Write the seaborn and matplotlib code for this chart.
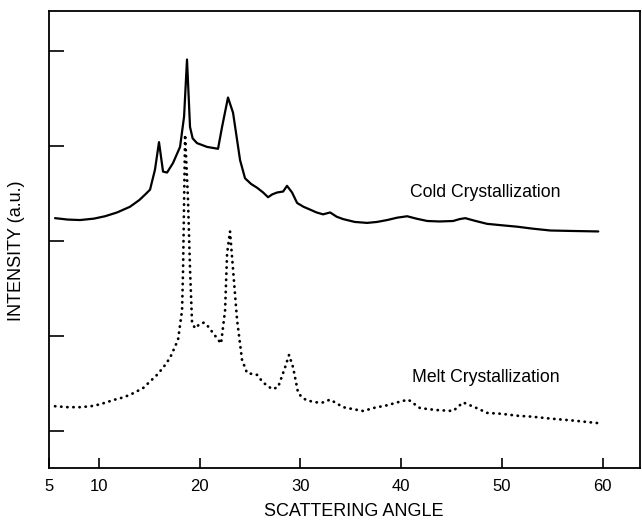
import matplotlib
matplotlib.use("Agg")
import matplotlib.pyplot as plt
import seaborn as sns
import pandas as pd

# Cold crystallization (solid curve)
cold_angle = [5.64, 6.9, 8.12, 9.5, 10.6, 11.8, 13.08, 14.0, 14.6, 15.07,
              15.56, 15.96, 16.36, 16.76, 17.35, 18.05, 18.45, 18.74, 19.04, 19.3,
              19.73, 20.73, 21.82, 22.22, 22.81, 23.31, 24.01, 24.5, 25.1, 25.7,
              26.3, 26.79, 27.2, 27.68, 28.28, 28.67, 29.17, 29.67, 30.3, 30.96,
              31.6, 32.25, 32.95, 33.6, 34.24, 35.4, 36.62, 37.6, 38.61, 39.6,
              40.6, 41.5, 42.59, 43.8, 45.16, 45.8, 46.36, 47.4, 48.54, 50.0,
              51.52, 53.0, 54.8, 57.0, 59.57]
cold_int = [3.24, 3.225, 3.22, 3.235, 3.26, 3.30, 3.36, 3.43, 3.49, 3.54,
            3.75, 4.04, 3.73, 3.72, 3.82, 3.99, 4.31, 4.91, 4.20, 4.08,
            4.03, 3.99, 3.97, 4.20, 4.51, 4.35, 3.85, 3.66, 3.60, 3.56,
            3.51, 3.46, 3.49, 3.51, 3.52, 3.58, 3.51, 3.40, 3.36, 3.33,
            3.30, 3.28, 3.30, 3.255, 3.23, 3.20, 3.19, 3.20, 3.22, 3.245,
            3.26, 3.235, 3.21, 3.205, 3.21, 3.23, 3.24, 3.21, 3.18, 3.165,
            3.15, 3.13, 3.11, 3.105, 3.10]

# Melt crystallization (dotted curve)
melt_angle = [5.64, 6.9, 8.12, 9.2, 10.1, 11.59, 12.3, 13.08, 14.37, 15.76,
              16.4, 17.06, 17.85, 18.25, 18.35, 18.55, 18.84, 19.04, 19.24, 19.54,
              20.04, 20.43, 20.83, 21.33, 22.12, 22.52, 22.72, 23.01, 23.31, 23.71,
              24.2, 24.7, 25.7, 26.29, 27.19, 27.78, 28.48, 28.87, 29.27, 29.77,
              30.2, 30.66, 31.66, 32.25, 32.95, 34.24, 35.2, 36.22, 37.4, 38.61,
              39.6, 40.7, 41.88, 43.5, 45.16, 46.15, 47.3, 48.54, 50.0, 51.52,
              53.0, 54.8, 57.0, 59.77]
melt_int = [1.26, 1.25, 1.25, 1.26, 1.28, 1.33, 1.35, 1.38, 1.45, 1.59,
            1.67, 1.77, 1.96, 2.27, 2.70, 4.12, 3.43, 2.70, 2.14, 2.08,
            2.13, 2.14, 2.10, 2.03, 1.92, 2.27, 2.87, 3.10, 2.70, 2.17,
            1.75, 1.61, 1.59, 1.51, 1.44, 1.46, 1.67, 1.80, 1.67, 1.40,
            1.35, 1.32, 1.30, 1.30, 1.33, 1.25, 1.23, 1.21, 1.245, 1.27,
            1.30, 1.33, 1.24, 1.22, 1.21, 1.30, 1.25, 1.19, 1.18, 1.16,
            1.15, 1.13, 1.11, 1.08]

x_ticks = [5, 10, 20, 30, 40, 50, 60]
y_ticks = [1, 2, 3, 4, 5]

sns.set_theme(style="white")
plt.rcParams['font.family'] = ['Liberation Sans', 'DejaVu Sans']

fig = plt.figure(figsize=(6.42, 5.27), dpi=100)
ax = fig.add_axes([0.0757, 0.112, 0.921, 0.867])

cold = pd.DataFrame({"angle": cold_angle, "intensity": cold_int})
melt = pd.DataFrame({"angle": melt_angle, "intensity": melt_int})

sns.lineplot(data=cold, x="angle", y="intensity", ax=ax, color="black",
             linewidth=1.6, sort=False, estimator=None)
sns.lineplot(data=melt, x="angle", y="intensity", ax=ax, color="black",
             linewidth=2.0, sort=False, estimator=None,
             linestyle=(0, (0.1, 2.1)), dash_capstyle="round")

ax.set_xlim(5, 63.7)
ax.set_ylim(0.61, 5.42)
ax.set_xticks(x_ticks)
ax.set_xticklabels([str(t) for t in x_ticks])
ax.set_yticks(y_ticks)
ax.set_yticklabels([])
ax.tick_params(axis="x", bottom=True, direction="in", length=7, width=1.2,
               labelsize=12, pad=8, colors="black")
ax.tick_params(axis="y", left=True, direction="in", length=11, width=1.2,
               colors="black")
for s in ax.spines.values():
    s.set_visible(True)
    s.set_color("black")
    s.set_linewidth(1.3)

ax.set_xlabel("SCATTERING ANGLE", fontsize=13, color="black")
ax.xaxis.set_label_coords(0.5165, -0.077)
ax.set_ylabel("INTENSITY (a.u.)", fontsize=13, color="black")
ax.yaxis.set_label_coords(-0.040, 0.475)

ax.text(40.89, 3.505, "Cold Crystallization", fontsize=12.7, va="center",
        ha="left", color="black")
ax.text(41.1, 1.56, "Melt Crystallization", fontsize=12.7, va="center",
        ha="left", color="black")

fig.savefig("out.png", dpi=100)
